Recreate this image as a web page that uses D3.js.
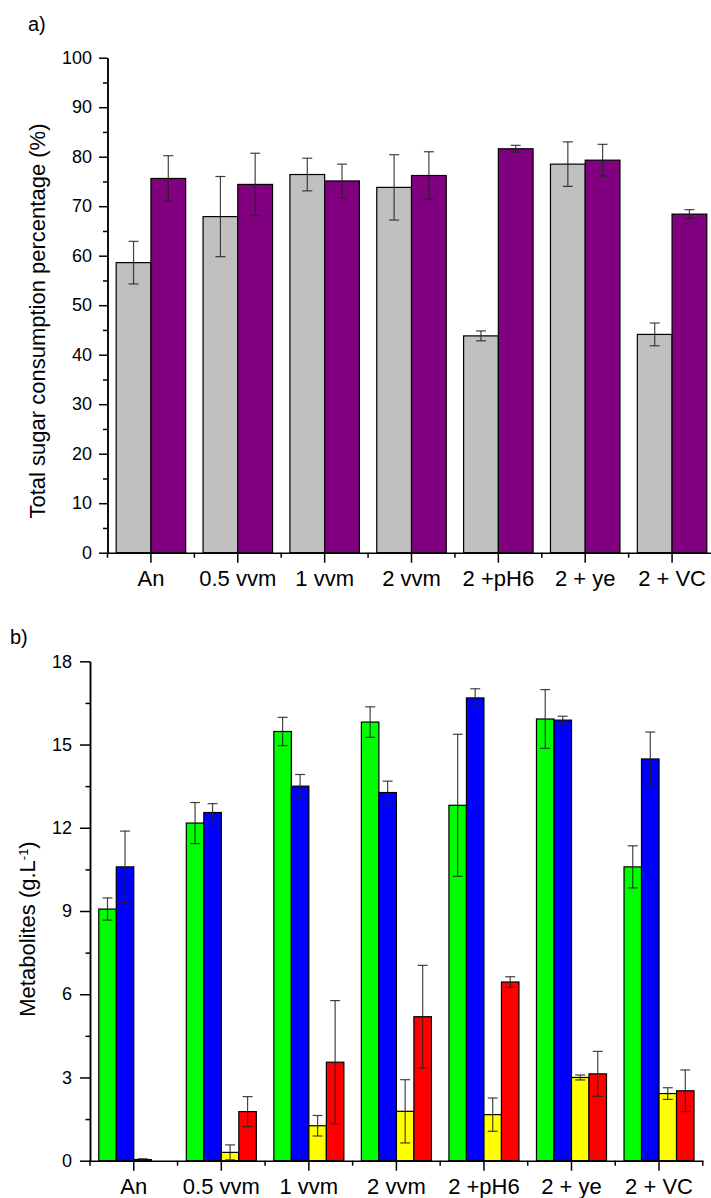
<!DOCTYPE html>
<html>
<head>
<meta charset="utf-8">
<title>Sugar consumption and metabolites</title>
<script src="https://cdn.jsdelivr.net/npm/d3@7"></script>
<style>
  body { margin: 0; background: #fff; }
  svg { display: block; font-family: "Liberation Sans", Arial, sans-serif; }
  .axis path, .axis line { stroke: #000; stroke-width: 1.5; }
  .axis text { font-size: 18px; fill: #000; }
</style>
</head>
<body>
<svg width="711" height="1198"></svg>
<script>
var categories = ['An', '0.5 vvm', '1 vvm', '2 vvm', '2 +pH6', '2 + ye', '2 + VC']

// panel a : total sugar consumption (%)
var sugarGrey = [58.6, 67.9, 76.4, 73.8, 43.8, 78.5, 44.1]
var sugarGreyErr = [4.3, 8.1, 3.3, 6.6, 1.0, 4.5, 2.3]
var sugarPurple = [75.6, 74.4, 75.1, 76.2, 81.6, 79.3, 68.4]
var sugarPurpleErr = [4.6, 6.3, 3.4, 4.8, 0.7, 3.2, 0.9]
var sugarTicks = [0, 10, 20, 30, 40, 50, 60, 70, 80, 90, 100]

// panel b : metabolites (g/L)
var metGreen = [9.07, 12.17, 15.47, 15.81, 12.81, 15.92, 10.59]
var metGreenErr = [0.4, 0.74, 0.51, 0.55, 2.56, 1.06, 0.76]
var metBlue = [10.59, 12.55, 13.5, 13.27, 16.68, 15.88, 14.48]
var metBlueErr = [1.29, 0.32, 0.42, 0.41, 0.33, 0.14, 0.97]
var metYellow = [0.04, 0.30, 1.26, 1.78, 1.66, 3.0, 2.42]
var metYellowErr = [0.03, 0.27, 0.37, 1.14, 0.6, 0.09, 0.21]
var metRed = [0, 1.77, 3.55, 5.19, 6.44, 3.13, 2.52]
var metRedErr = [0, 0.54, 2.22, 1.85, 0.19, 0.81, 0.75]
var metTicks = [0, 3, 6, 9, 12, 15, 18]

var svg = d3.select('svg')

function drawPanel(p) {
  var g = svg.append('g')

  var x = d3.scaleBand()
    .domain(categories)
    .range(p.xRange)
    .paddingInner(0.2)
    .paddingOuter(0.1)

  var inner = d3.scaleBand()
    .domain(d3.range(p.series.length))
    .range([0, x.bandwidth()])

  var y = d3.scaleLinear().domain(p.yDomain).range(p.yRange)

  // bars
  p.series.forEach(function(s, si) {
    var rows = categories.map(function(c, i) {
      return { cat: c, v: s.values[i], e: s.errs[i] }
    }).filter(function(d) { return d.v > 0 })

    g.selectAll(null)
      .data(rows)
      .enter()
      .append('rect')
      .attr('x', function(d) { return x(d.cat) + inner(si) })
      .attr('width', inner.bandwidth())
      .attr('y', function(d) { return y(d.v) })
      .attr('height', function(d) { return y(0) - y(d.v) })
      .attr('fill', s.color)
      .attr('stroke', '#000')
      .attr('stroke-width', 1.2)

    // error bars
    var eb = g.selectAll(null)
      .data(rows)
      .enter()
      .append('g')
      .attr('stroke', '#222')
      .attr('stroke-opacity', 0.85)
      .attr('stroke-width', 1.2)
    eb.append('line')
      .attr('x1', function(d) { return x(d.cat) + inner(si) + inner.bandwidth() / 2 })
      .attr('x2', function(d) { return x(d.cat) + inner(si) + inner.bandwidth() / 2 })
      .attr('y1', function(d) { return y(d.v - d.e) })
      .attr('y2', function(d) { return y(d.v + d.e) })
    ;[-1, 1].forEach(function(sign) {
      eb.append('line')
        .attr('x1', function(d) { return x(d.cat) + inner(si) + inner.bandwidth() / 2 - 5 })
        .attr('x2', function(d) { return x(d.cat) + inner(si) + inner.bandwidth() / 2 + 5 })
        .attr('y1', function(d) { return y(d.v + sign * d.e) })
        .attr('y2', function(d) { return y(d.v + sign * d.e) })
    })
  })

  // y axis, major + minor ticks
  var minorY = d3.range(p.yTicks.length - 1).map(function(i) {
    return (p.yTicks[i] + p.yTicks[i + 1]) / 2
  })
  g.append('g')
    .attr('class', 'axis')
    .attr('transform', 'translate(' + p.xRange[0] + ',0)')
    .call(d3.axisLeft(y).tickValues(minorY).tickSize(4.5).tickSizeOuter(0).tickFormat(''))
  g.append('g')
    .attr('class', 'axis')
    .attr('transform', 'translate(' + p.xRange[0] + ',0)')
    .call(d3.axisLeft(y).tickValues(p.yTicks).tickSize(p.yTickLen).tickSizeOuter(0).tickPadding(p.yPad))

  // x axis, ticks at centres, minor ticks between groups
  var xAxis = g.append('g')
    .attr('class', 'axis')
    .attr('transform', 'translate(0,' + y(0) + ')')
    .call(d3.axisBottom(x).tickSize(10).tickSizeOuter(0))
  xAxis.selectAll('text')
    .attr('y', 33.5)
    .attr('dy', 0)
    .style('font-size', '22px')

  var minorX = d3.range(categories.length + 1).map(function(i) {
    return x.range()[0] + i * x.step()
  })
  xAxis.selectAll('.minor')
    .data(minorX)
    .enter()
    .append('line')
    .attr('class', 'minor')
    .attr('x1', function(d) { return d })
    .attr('x2', function(d) { return d })
    .attr('y1', 0)
    .attr('y2', 5)

  // y title
  var title = svg.append('text')
    .attr('transform', 'translate(' + p.titleX + ',' + p.titleY + ') rotate(-90)')
    .attr('text-anchor', 'middle')
    .style('font-size', '22px')
  p.title(title)

  svg.append('text')
    .attr('x', p.labelPos[0])
    .attr('y', p.labelPos[1])
    .style('font-size', '20px')
    .text(p.label)
}

drawPanel({
  label: 'a)',
  labelPos: [28, 31],
  xRange: [107.5, 715.5],
  yDomain: [0, 100],
  yRange: [552.7, 57.7],
  yTicks: sugarTicks,
  yTickLen: 8.5,
  yPad: 7,
  titleX: 45,
  titleY: 321,
  title: function(t) { t.text('Total sugar consumption percentage (%)') },
  series: [
    { values: sugarGrey, errs: sugarGreyErr, color: '#c0c0c0' },
    { values: sugarPurple, errs: sugarPurpleErr, color: '#800080' }
  ]
})

drawPanel({
  label: 'b)',
  labelPos: [10, 644],
  xRange: [90, 702.8],
  yDomain: [0, 18],
  yRange: [1160.7, 661.3],
  yTicks: metTicks,
  yTickLen: 10,
  yPad: 8,
  titleX: 35,
  titleY: 929,
  title: function(t) {
    t.append('tspan').text('Metabolites (g.L')
    t.append('tspan').attr('baseline-shift', 'super').style('font-size', '13px').text('-1')
    t.append('tspan').text(')')
  },
  series: [
    { values: metGreen, errs: metGreenErr, color: '#00ff00' },
    { values: metBlue, errs: metBlueErr, color: '#0000ff' },
    { values: metYellow, errs: metYellowErr, color: '#ffff00' },
    { values: metRed, errs: metRedErr, color: '#ff0000' }
  ]
})
</script>
</body>
</html>
